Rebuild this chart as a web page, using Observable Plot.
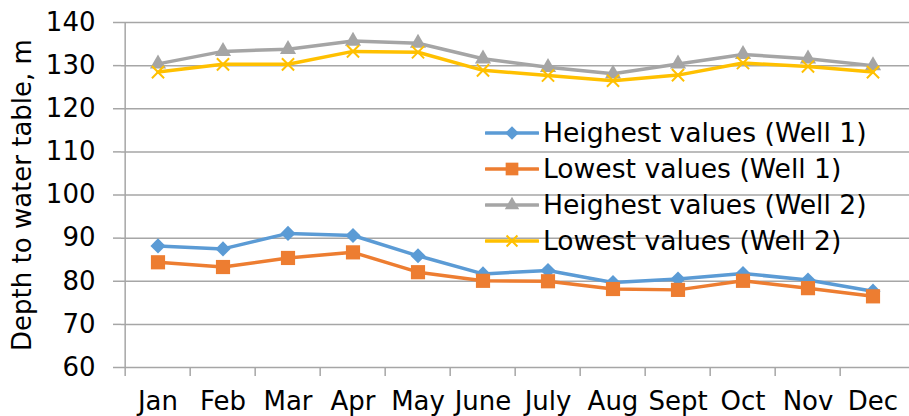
<!DOCTYPE html>
<html>
<head>
<meta charset="utf-8">
<script src="https://cdn.jsdelivr.net/npm/d3@7"></script>
<script src="https://cdn.jsdelivr.net/npm/@observablehq/plot@0.6"></script>
<style>
  html, body { margin: 0; padding: 0; background: #fff; }
  #wrap { position: relative; width: 909px; height: 416px; font-family: "DejaVu Sans", Verdana, sans-serif; }
  #legend { position: absolute; left: 485px; top: 115px; }
  .row { display: flex; align-items: center; height: 36px; }
  .row span { font-size: 26.6px; color: #000; margin-left: 4px; white-space: nowrap; line-height: 36px; }
</style>
</head>
<body>
<div id="wrap"><div id="legend"></div></div>
<script>
const months = ["Jan","Feb","Mar","Apr","May","June","July","Aug","Sept","Oct","Nov","Dec"];
const well1High = [88.2, 87.5, 91.1, 90.6, 85.9, 81.7, 82.5, 79.7, 80.5, 81.8, 80.3, 77.7];
const well1Low  = [84.4, 83.3, 85.4, 86.7, 82.1, 80.1, 80.0, 78.2, 78.0, 80.1, 78.4, 76.5];
const well2High = [130.4, 133.3, 133.8, 135.7, 135.2, 131.6, 129.6, 128.1, 130.4, 132.6, 131.6, 130.0];
const well2Low  = [128.5, 130.3, 130.3, 133.3, 133.1, 128.9, 127.7, 126.5, 127.8, 130.6, 129.8, 128.5];
const seriesNames = ["Heighest values (Well 1)", "Lowest values (Well 1)", "Heighest values (Well 2)", "Lowest values (Well 2)"];
const yTicks = [60, 70, 80, 90, 100, 110, 120, 130, 140];
const yLabel = "Depth to water table, m";

const colors = ["#5B9BD5", "#ED7D31", "#A5A5A5", "#FFC000"];
const symbols = ["diamond2", "square", "triangle", "times"];
const radii = [6.8, 8, 6, 5.6];

const values = [well1High, well1Low, well2High, well2Low];
const series = seriesNames.map((name, k) => months.map((m, i) => ({month: m, value: values[k][i], name})));

const W = 909, H = 416, mL = 121, mR = 0, mT = 22, mB = 49;
const bw = (W - mL - mR) / months.length;
const gridColor = "#a6a6a6";

const marks = [
  Plot.gridY(yTicks, {stroke: gridColor, strokeOpacity: 1, strokeWidth: 1.5}),
  Plot.ruleX([months[0]], {dx: -bw / 2, stroke: gridColor, strokeWidth: 1.5}),
  Plot.axisY({ticks: yTicks, tickSize: 8, tickPadding: 18, stroke: gridColor, strokeWidth: 1.5, fontSize: 26,
    label: yLabel, labelAnchor: "center", labelArrow: "none", labelOffset: 109}),
  Plot.axisX({tickSize: 9, tickFormat: () => "", dx: -bw / 2, stroke: gridColor, strokeWidth: 1.5, label: null}),
  Plot.axisX({tickSize: 0, tickPadding: 24, fontSize: 26, label: null})
];
series.forEach((s, k) => {
  marks.push(Plot.line(s, {x: "month", y: "value", stroke: colors[k], strokeWidth: 3.5}));
  if (symbols[k] === "times") {
    marks.push(Plot.dot(s, {x: "month", y: "value", symbol: symbols[k], r: radii[k], stroke: colors[k], strokeWidth: 2, fill: "none"}));
  } else {
    marks.push(Plot.dot(s, {x: "month", y: "value", symbol: symbols[k], r: radii[k], fill: colors[k], stroke: "none"}));
  }
});

const chart = Plot.plot({
  width: W, height: H,
  marginLeft: mL, marginRight: mR, marginTop: mT, marginBottom: mB,
  style: {fontFamily: "DejaVu Sans, Verdana, sans-serif", fontSize: "26px", color: "#000", background: "#fff"},
  x: {type: "band", domain: months, padding: 0},
  y: {domain: [60, 140]},
  marks
});
document.getElementById("wrap").prepend(chart);

// Legend
const symMap = {diamond2: d3.symbolDiamond2, square: d3.symbolSquare, triangle: d3.symbolTriangle, times: d3.symbolTimes};
const legend = d3.select("#legend");
seriesNames.forEach((name, k) => {
  const row = legend.append("div").attr("class", "row");
  const svg = row.append("svg").attr("width", 54).attr("height", 36);
  svg.append("line").attr("x1", 1).attr("x2", 53).attr("y1", 18).attr("y2", 18)
    .attr("stroke", colors[k]).attr("stroke-width", 3.5).attr("stroke-linecap", "round");
  const size = Math.PI * radii[k] * radii[k] * 0.8;
  const p = svg.append("path").attr("transform", "translate(27,18)")
    .attr("d", d3.symbol(symMap[symbols[k]], size)());
  if (symbols[k] === "times") p.attr("fill", "none").attr("stroke", colors[k]).attr("stroke-width", 2);
  else p.attr("fill", colors[k]);
  row.append("span").text(name);
});
</script>
</body>
</html>
